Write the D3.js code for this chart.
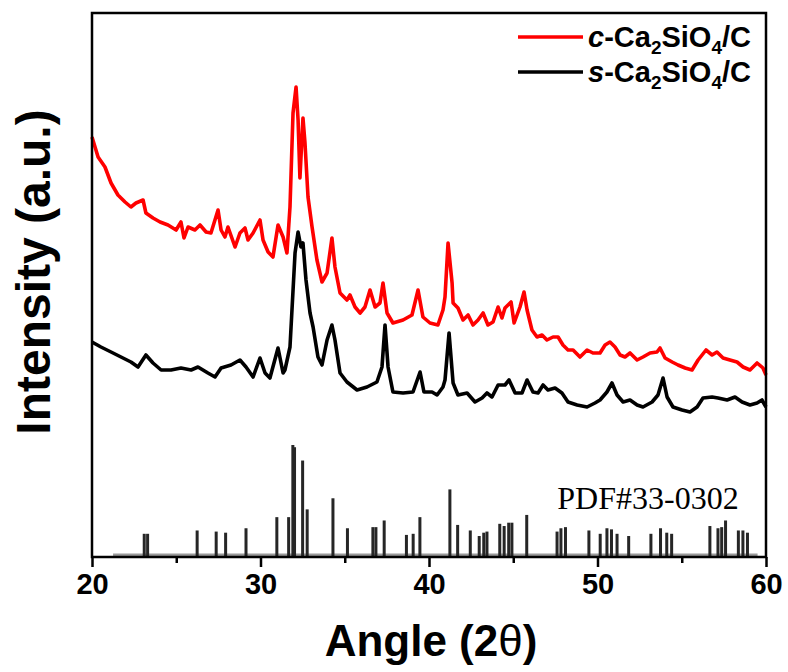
<!DOCTYPE html>
<html lang="en">
<head>
<meta charset="UTF-8">
<script src="https://cdnjs.cloudflare.com/ajax/libs/d3/7.8.5/d3.min.js"></script>
<title>XRD</title>
<style>
  body { margin: 0; background: #fff; }
  text { font-family: "Liberation Sans", Arial, sans-serif; }
</style>
</head>
<body>
<script>
// c-Ca2SiO4/C pattern (2theta, intensity a.u.)
var cAngle = [20.0,20.36,20.77,21.13,21.54,21.96,22.31,22.61,23.03,23.2,
  23.62,24.04,24.51,24.99,25.28,25.46,25.7,26.11,26.41,26.77,
  27.06,27.48,27.66,27.89,28.07,28.49,28.78,29.08,29.26,29.56,
  29.97,30.15,30.45,30.74,31.04,31.34,31.57,31.75,31.93,32.11,
  32.23,32.34,32.52,32.64,32.82,33.06,33.35,33.65,33.95,34.24,
  34.42,34.72,35.13,35.31,35.61,35.91,36.2,36.5,36.8,37.09,
  37.27,37.51,37.86,38.46,38.99,39.35,39.64,40.06,40.53,40.83,
  40.95,41.13,41.37,41.43,41.72,42.02,42.32,42.61,42.91,43.21,
  43.5,43.8,44.1,44.33,44.51,44.87,45.05,45.4,45.64,45.82,
  46.11,46.41,46.71,47.0,47.36,47.66,47.95,48.25,48.55,48.96,
  49.38,49.73,50.15,50.45,50.74,51.04,51.34,51.63,51.93,52.35,
  52.7,53.12,53.53,53.71,54.01,54.43,54.78,55.2,55.61,55.97,
  56.44,56.8,57.09,57.45,57.86,58.28,58.64,59.05,59.47,59.82,60.0];
var cValue = [420,400,390,374,362,355,350,354,357,344,
  339,335,332,327,335,319,330,327,332,325,
  324,347,327,320,330,310,324,329,317,324,
  337,317,305,300,332,320,304,350,444,470,
  437,379,439,414,360,330,297,275,284,319,
  290,264,257,262,250,244,250,267,250,254,
  274,244,234,237,242,267,240,234,232,247,
  260,314,274,254,249,237,242,232,237,244,
  232,235,250,239,249,255,234,250,265,247,
  227,220,222,217,220,220,212,207,207,200,
  207,204,204,212,215,210,202,200,204,197,
  200,204,205,209,199,195,192,189,187,197,
  207,202,205,199,197,195,190,187,194,189,182];

// s-Ca2SiO4/C pattern
var sAngle = [20.0,20.53,21.13,21.72,22.31,22.73,23.2,23.62,24.1,24.69,
  25.28,25.88,26.29,26.88,27.3,27.66,28.25,28.78,29.14,29.56,
  29.97,30.27,30.56,31.04,31.34,31.45,31.75,32.05,32.23,32.4,
  32.52,32.7,32.94,33.12,33.41,33.65,33.95,34.24,34.42,34.72,
  35.13,35.73,36.32,36.91,37.21,37.39,37.57,37.86,38.46,39.05,
  39.47,39.7,40.18,40.48,40.83,40.95,41.19,41.43,41.72,42.26,
  42.73,43.15,43.44,43.74,44.1,44.51,44.75,45.11,45.52,45.82,
  46.17,46.47,46.77,47.06,47.48,47.89,48.25,48.79,49.38,49.85,
  50.15,50.56,50.86,51.16,51.52,51.93,52.35,52.7,53.24,53.59,
  53.89,54.13,54.48,55.02,55.49,55.91,56.26,56.8,57.15,57.69,
  58.16,58.58,59.05,59.47,59.76,60.0];
var sValue = [215,210,205,200,195,190,202,194,187,187,
  189,187,190,184,180,189,192,197,190,180,
  199,184,179,209,184,187,210,304,325,310,
  314,277,244,230,200,192,217,232,217,184,
  175,167,170,175,190,232,190,165,164,165,
  185,165,165,162,170,177,224,174,162,164,
  155,159,164,160,172,172,177,164,164,177,
  165,164,172,167,169,164,155,152,150,154,
  157,165,174,162,155,157,152,150,155,162,
  179,160,150,147,145,150,159,160,159,157,
  160,155,152,154,157,150];

// PDF#33-0302 reference lines (2theta, relative intensity)
var refAngle = [23.1,23.3,26.24,27.37,27.93,29.14,30.97,31.67,31.92,32.02,
  32.5,32.77,34.3,35.16,36.67,36.85,37.34,38.66,39.06,39.46,
  41.24,41.7,42.45,42.98,43.25,43.44,44.2,44.46,44.73,44.92,
  45.8,47.6,47.83,48.1,49.49,50.16,50.56,50.83,51.16,51.85,
  53.17,53.74,54.11,54.4,56.67,57.15,57.37,57.6,58.36,58.63,58.9];
var refValue = [20,20,23,22,21,25,35,35,100,98,
  86,42,52,25,26,26,32,19,20,35,
  60,28,23,18,21,22,29,27,30,30,
  37,22,25,26,23,20,25,24,20,18,
  20,25,21,20,27,25,26,32,23,23,21];

var xTicks = [20, 30, 40, 50, 60];
var xMinor = [25, 35, 45, 55];

var W = 788, H = 672;
var mLeft = 92, mRight = 766, mTop = 13, mBottom = 557;

var svg = d3.select("body").append("svg")
  .attr("width", W)
  .attr("height", H);

var x = d3.scaleLinear().domain([20, 60]).range([mLeft, mRight]);
var y = d3.scaleLinear().domain([0, 544]).range([mBottom, mTop]);
var yRef = d3.scaleLinear().domain([0, 100]).range([mBottom - 1, mBottom - 112]);

// reference baseline and sticks
svg.append("line")
  .attr("x1", x(21.25)).attr("x2", x(59.5))
  .attr("y1", mBottom - 2).attr("y2", mBottom - 2)
  .attr("stroke", "#9a9a9a")
  .attr("stroke-width", 3);

svg.selectAll("rect.ref")
  .data(refAngle)
  .enter()
  .append("rect")
  .attr("class", "ref")
  .attr("x", function(d) { return x(d) - 1.5; })
  .attr("width", 3)
  .attr("y", function(d, i) { return yRef(refValue[i]); })
  .attr("height", function(d, i) { return yRef(0) - yRef(refValue[i]); })
  .attr("fill", "#262626");

svg.append("text")
  .attr("x", 648)
  .attr("y", 509)
  .attr("text-anchor", "middle")
  .style("font-family", "'Liberation Serif', 'Times New Roman', serif")
  .style("font-size", "32px")
  .text("PDF#33-0302");

// patterns
var line = d3.line()
  .x(function(d) { return x(d[0]); })
  .y(function(d) { return y(d[1]); });

var series = [
  { pts: d3.zip(cAngle, cValue), color: "#ff0000" },
  { pts: d3.zip(sAngle, sValue), color: "#000000" }
];

svg.selectAll("path.pattern")
  .data(series)
  .enter()
  .append("path")
  .attr("class", "pattern")
  .attr("d", function(d) { return line(d.pts); })
  .attr("fill", "none")
  .attr("stroke", function(d) { return d.color; })
  .attr("stroke-width", 3.6)
  .attr("stroke-linejoin", "round");

// frame
svg.append("rect")
  .attr("x", mLeft).attr("y", mTop)
  .attr("width", mRight - mLeft).attr("height", mBottom - mTop)
  .attr("fill", "none")
  .attr("stroke", "#000")
  .attr("stroke-width", 2.5);

// x axis
var xAxis = svg.append("g")
  .attr("transform", "translate(0," + mBottom + ")")
  .call(d3.axisBottom(x).tickValues(xTicks).tickSize(10).tickPadding(6).tickFormat(d3.format("d")));
xAxis.select(".domain").remove();
xAxis.selectAll("line").attr("stroke-width", 2.5);
xAxis.selectAll("text")
  .style("font-family", "'Liberation Sans', Arial, sans-serif")
  .style("font-size", "29px")
  .style("font-weight", "bold");

var xAxisMinor = svg.append("g")
  .attr("transform", "translate(0," + mBottom + ")")
  .call(d3.axisBottom(x).tickValues(xMinor).tickSize(6).tickFormat(""));
xAxisMinor.select(".domain").remove();
xAxisMinor.selectAll("line").attr("stroke-width", 2.5);

// axis titles
var xt = svg.append("text")
  .attr("x", 431)
  .attr("y", 656)
  .attr("text-anchor", "middle")
  .style("font-size", "44px")
  .style("font-weight", "bold");
xt.append("tspan").text("Angle (2");
xt.append("tspan").style("font-weight", "normal").text("θ");
xt.append("tspan").text(")");

svg.append("text")
  .attr("transform", "translate(50,272) rotate(-90)")
  .attr("text-anchor", "middle")
  .style("font-size", "48px")
  .style("font-weight", "bold")
  .text("Intensity (a.u.)");

// legend
var legend = [
  { prefix: "c", color: "#ff0000", y: 37 },
  { prefix: "s", color: "#000000", y: 72 }
];

var lg = svg.selectAll("g.legend")
  .data(legend)
  .enter()
  .append("g")
  .attr("class", "legend")
  .attr("transform", function(d) { return "translate(0," + d.y + ")"; });

lg.append("line")
  .attr("x1", 518).attr("x2", 583)
  .attr("stroke", function(d) { return d.color; })
  .attr("stroke-width", 3.5);

var lt = lg.append("text")
  .attr("x", 588)
  .attr("y", 10)
  .style("font-size", "29px")
  .style("font-weight", "bold");
lt.append("tspan").style("font-style", "italic").text(function(d) { return d.prefix; });
lt.append("tspan").text("-Ca");
lt.append("tspan").attr("dy", 7).style("font-size", "19px").text("2");
lt.append("tspan").attr("dy", -7).text("SiO");
lt.append("tspan").attr("dy", 7).style("font-size", "19px").text("4");
lt.append("tspan").attr("dy", -7).text("/C");
</script>
</body>
</html>
